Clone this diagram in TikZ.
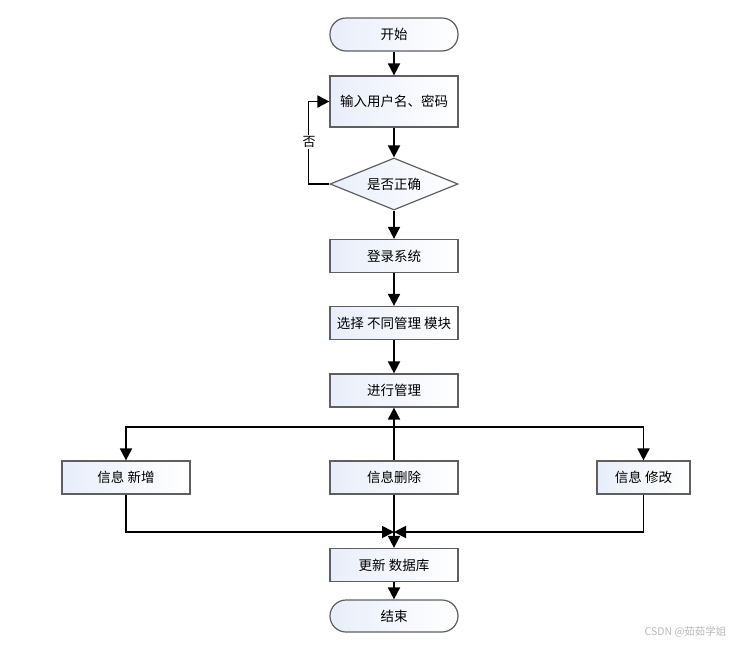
\documentclass[tikz,border=0pt]{standalone}
\usepackage{fontspec}
\setmainfont{Noto Sans CJK SC}
\usetikzlibrary{shapes.geometric,arrows.meta}

\definecolor{boxfill}{RGB}{232,238,250}
\definecolor{boxline}{RGB}{95,95,95}

\tikzset{
  stepbox/.style={draw=boxline,line width=1.2pt,left color=boxfill,right color=white,
    minimum width=128pt,minimum height=33pt,inner sep=0pt,
    font=\fontsize{13.5}{16}\selectfont},
  endbox/.style={stepbox,rounded corners=16pt},
  checkbox/.style={stepbox,diamond,aspect=2.46,minimum width=128pt,minimum height=52pt},
  flow/.style={line width=1.8pt,-{Triangle[length=12pt,width=12pt]}}
}

\begin{document}
\begin{tikzpicture}[x=1pt,y=-1pt]
      \useasboundingbox (0,0) rectangle (740,646);

      % main column
      \node[endbox] (start) at (394,34.5) {开始};
      \node[stepbox,minimum height=51pt] (input) at (394,101.5) {输入用户名、密码};
      \node[checkbox] (check) at (394,184) {是否正确};
      \node[stepbox] (login) at (394,256) {登录系统};
      \node[stepbox] (choose) at (394,323) {选择 不同管理 模块};
      \node[stepbox] (manage) at (394,390.5) {进行管理};

      % the three operations
      \node[stepbox] (add) at (126,477.5) {信息 新增};
      \node[stepbox] (del) at (394,477.5) {信息删除};
      \node[stepbox,minimum width=93pt] (edit) at (643.5,477.5) {信息 修改};

      \node[stepbox] (update) at (394,565) {更新 数据库};
      \node[endbox,minimum height=32pt] (stop) at (394,616) {结束};

      \coordinate (split) at (394,427);
      \coordinate (merge) at (394,532);

      \draw[flow] (start) -- (input);
      \draw[flow] (input) -- (check);
      \draw[flow] (check) -- (login);
      \draw[flow] (login) -- (choose);
      \draw[flow] (choose) -- (manage);

      % wrong password goes back
      \draw[flow] (check.west) -- ++(-21,0) |- (input.west);
      \node[fill=white,inner sep=1.5pt,font=\fontsize{13}{15}\selectfont] (no) at (309,142) {否};

      \draw[flow] (del.north) -- (manage.south);
      \draw[flow] (split) -| (add.north);
      \draw[flow] (split) -| (edit.north);

      \draw[flow] (add.south) |- (merge);
      \draw[flow] (edit.south) |- (merge);
      \draw[flow] (del.south) -- (update.north);
      \draw[flow] (update) -- (stop);

      \node[gray!55,font=\fontsize{10.5}{12}\selectfont,anchor=east] (mark) at (730,632) {CSDN @茹茹学姐};
\end{tikzpicture}
\end{document}
